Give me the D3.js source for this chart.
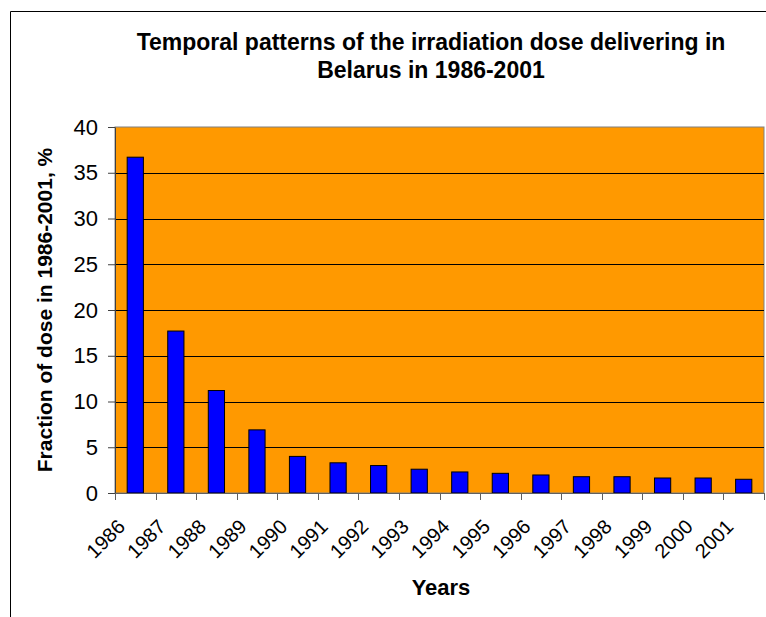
<!DOCTYPE html>
<html>
<head>
<meta charset="utf-8">
<script src="https://cdn.jsdelivr.net/npm/d3@7"></script>
<style>
  html, body { margin: 0; padding: 0; background: #fff; overflow: hidden; }
  svg { display: block; }
  text { font-family: "Liberation Sans", Arial, sans-serif; fill: #000; }
</style>
</head>
<body>
<div id="chart"></div>
<script>
const years = ["1986", "1987", "1988", "1989", "1990", "1991", "1992", "1993",
  "1994", "1995", "1996", "1997", "1998", "1999", "2000", "2001"];
const doseFraction = [36.7, 17.7, 11.2, 6.9, 4.0, 3.3, 3.0, 2.6,
  2.3, 2.15, 1.97, 1.78, 1.78, 1.64, 1.64, 1.5];
const yTicks = [0, 5, 10, 15, 20, 25, 30, 35, 40];
const titleLines = ["Temporal patterns of the irradiation dose delivering in", "Belarus in 1986-2001"];

const width = 766;
const height = 617;
const margin = { top: 127, right: 2, bottom: 124, left: 115 };
const innerWidth = width - margin.left - margin.right;
const innerHeight = height - margin.top - margin.bottom;

const svg = d3.select("#chart")
  .append("svg")
  .attr("width", width)
  .attr("height", height);

// chart area border: only top and left edges are inside the window
svg.append("path")
  .attr("d", `M10.5,${height} V11.5 H${width}`)
  .attr("fill", "none")
  .attr("stroke", "#000")
  .attr("stroke-width", 1);

// title, one text per line
svg.selectAll(".title")
  .data(titleLines)
  .join("text")
  .attr("class", "title")
  .attr("text-anchor", "middle")
  .attr("x", 431)
  .attr("y", (d, i) => 50 + i * 28)
  .style("font-size", "23px")
  .style("font-weight", 700)
  .text(d => d);

const innerChart = svg.append("g")
  .attr("transform", `translate(${margin.left}, ${margin.top})`);

const xScale = d3.scaleBand()
  .domain(years)
  .range([0, innerWidth])
  .paddingInner(0.6)
  .paddingOuter(0.3);

const yScale = d3.scaleLinear()
  .domain([0, 40])
  .range([innerHeight, 0]);

// plot area
innerChart.append("rect")
  .attr("x", 0)
  .attr("y", 0)
  .attr("width", innerWidth)
  .attr("height", innerHeight)
  .attr("fill", "#FF9900")
  .attr("stroke", "#808080")
  .attr("stroke-width", 1);

// gridlines
innerChart.append("g")
  .selectAll("line")
  .data(yTicks.filter(t => t > 0 && t < 40))
  .join("line")
  .attr("x1", 0)
  .attr("x2", innerWidth)
  .attr("y1", d => Math.round(yScale(d)) + 0.5)
  .attr("y2", d => Math.round(yScale(d)) + 0.5)
  .attr("stroke", "#000")
  .attr("stroke-width", 1);

// bars
innerChart.append("g")
  .selectAll("rect")
  .data(doseFraction)
  .join("rect")
  .attr("x", (d, i) => xScale(years[i]))
  .attr("y", d => yScale(d))
  .attr("width", xScale.bandwidth())
  .attr("height", d => innerHeight - yScale(d))
  .attr("fill", "#0000FF")
  .attr("stroke", "#000")
  .attr("stroke-width", 1);

// y axis
const yAxis = d3.axisLeft(yScale)
  .tickValues(yTicks)
  .tickSize(7)
  .tickSizeOuter(0)
  .tickPadding(10);
const yAxisGroup = innerChart.append("g")
  .attr("font-size", 22)
  .call(yAxis);
yAxisGroup.attr("font-family", null).attr("font-size", null);
yAxisGroup.select(".domain").attr("stroke", "#404040");
yAxisGroup.selectAll(".tick line").attr("stroke", "#404040");
yAxisGroup.selectAll("text")
  .style("font-size", "22px")
  .attr("fill", "#000");

// x axis: ticks between categories
const step = xScale.step();
const xAxisGroup = innerChart.append("g")
  .attr("transform", `translate(0, ${innerHeight})`);
xAxisGroup.append("line")
  .attr("x1", 0)
  .attr("x2", innerWidth)
  .attr("y1", 0.5)
  .attr("y2", 0.5)
  .attr("stroke", "#606060");
xAxisGroup.selectAll(".xtick")
  .data(d3.range(years.length + 1))
  .join("line")
  .attr("class", "xtick")
  .attr("x1", i => Math.round(i * step) + 0.5)
  .attr("x2", i => Math.round(i * step) + 0.5)
  .attr("y1", 0)
  .attr("y2", 7)
  .attr("stroke", "#606060");
xAxisGroup.selectAll(".xlabel")
  .data(years)
  .join("text")
  .attr("class", "xlabel")
  .attr("text-anchor", "end")
  .attr("transform", d => `translate(${xScale(d) + xScale.bandwidth() / 2 - 9}, 35) rotate(-45)`)
  .style("font-size", "20px")
  .text(d => d);

// axis titles
svg.append("text")
  .attr("text-anchor", "middle")
  .attr("transform", "translate(52, 310) rotate(-90)")
  .style("font-size", "21px")
  .style("font-weight", 700)
  .text("Fraction of dose in 1986-2001, %");

svg.append("text")
  .attr("text-anchor", "middle")
  .attr("x", 441)
  .attr("y", 595)
  .style("font-size", "22px")
  .style("font-weight", 700)
  .text("Years");
</script>
</body>
</html>
